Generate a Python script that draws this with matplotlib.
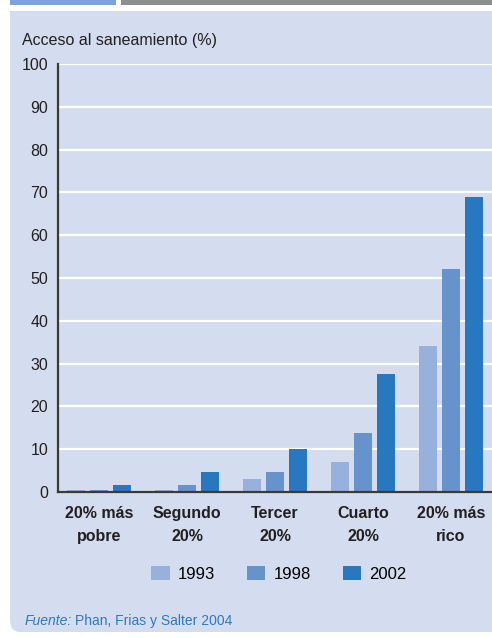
import numpy as np
import matplotlib
matplotlib.use("Agg")
import matplotlib.pyplot as plt
from matplotlib.patches import FancyBboxPatch, Rectangle, Patch

plt.rcParams['font.family'] = ['Liberation Sans', 'DejaVu Sans']

# data
groups = ["20% más\npobre", "Segundo\n20%", "Tercer\n20%", "Cuarto\n20%", "20% más\nrico"]
years = ["1993", "1998", "2002"]
v1993 = [0.5, 0.5, 3.1, 7.1, 34.2]
v1998 = [0.5, 1.7, 4.7, 13.9, 52.2]
v2002 = [1.7, 4.7, 10.1, 27.6, 69.0]
yticks = [0, 10, 20, 30, 40, 50, 60, 70, 80, 90, 100]

colours = ['#97b1dc', '#6793cc', '#2878c0']
panel = '#d4ddef'
W, H = 492, 638

fig = plt.figure(figsize=(W / 100, H / 100), dpi=100)
fig.patch.set_facecolor('white')

def fx(px):
    return px / W

def fy(py):
    return 1 - py / H

# panel background (rounded bottom-left, square top)
fig.patches.append(FancyBboxPatch((fx(10), fy(632)), fx(520), fy(11) - fy(632),
                                  boxstyle="round,pad=0,rounding_size=0.02",
                                  transform=fig.transFigure, facecolor=panel,
                                  edgecolor='none', zorder=-2))
fig.patches.append(Rectangle((fx(10), fy(60)), fx(500), fy(11) - fy(60),
                             transform=fig.transFigure, facecolor=panel,
                             edgecolor='none', zorder=-2))
# header strips
fig.patches.append(Rectangle((fx(10), fy(5)), fx(106), fy(0) - fy(5),
                             transform=fig.transFigure, facecolor='#7fa3d6',
                             edgecolor='none', zorder=-2))
fig.patches.append(Rectangle((fx(121), fy(5)), fx(380), fy(0) - fy(5),
                             transform=fig.transFigure, facecolor='#8e8e8e',
                             edgecolor='none', zorder=-2))

ax = fig.add_axes([fx(58), fy(492), fx(492 - 58), fy(64) - fy(492)])
ax.set_facecolor('none')
ax.set_zorder(2)

x = np.arange(len(groups))
width = 18 / 88
step = 23 / 88
for i, vals in enumerate([v1993, v1998, v2002]):
    ax.bar(x + (i - 1) * step, vals, width, color=colours[i], label=years[i], zorder=3)

ax.set_ylim(0, 100)
ax.set_xlim((58 - 99) / 88, (492 - 99) / 88)
ax.set_yticks(yticks)
ax.set_yticklabels([str(t) for t in yticks], fontsize=11.5, color='#231f20')
ax.set_xticks(x)
ax.set_xticklabels(groups, fontsize=11.5, fontweight='bold', color='#231f20',
                   linespacing=1.7)
ax.tick_params(axis='y', length=0, pad=7)
ax.tick_params(axis='x', length=0, pad=10)
ax.grid(axis='y', color='white', linewidth=1.6, zorder=1)
for s in ['top', 'right']:
    ax.spines[s].set_visible(False)
for s in ['left', 'bottom']:
    ax.spines[s].set_color('#3a3a3a')
    ax.spines[s].set_linewidth(1.6)
    ax.spines[s].set_zorder(4)

fig.text(fx(22), fy(40), "Acceso al saneamiento (%)", fontsize=11.5,
         color='#231f20', va='center', ha='left')

handles = [Patch(facecolor=c, edgecolor='none') for c in colours]
fig.legend(handles, years, loc='center', bbox_to_anchor=(fx(279), fy(574)),
           ncol=3, frameon=False, fontsize=12, handlelength=1.1, handleheight=0.9,
           handletextpad=0.5, columnspacing=1.9)

src1 = fig.text(fx(25), fy(621), "Fuente:", fontsize=10, color='#2a7ac0',
                style='italic', va='center', ha='left')
fig.canvas.draw()
bb = src1.get_window_extent()
fig.text(bb.x1 / W + fx(3), fy(621), "Phan, Frias y Salter 2004", fontsize=10,
         color='#2a7ac0', va='center', ha='left')

fig.savefig("out.png", dpi=100, facecolor='white')
